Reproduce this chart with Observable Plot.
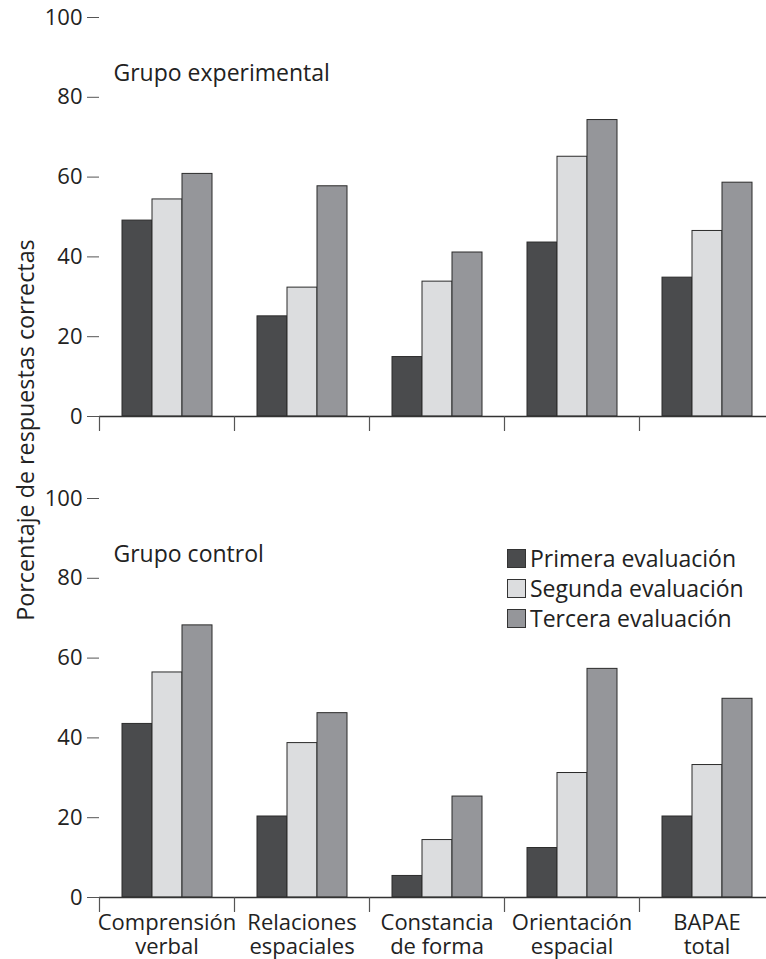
<!DOCTYPE html>
<html>
<head>
<meta charset="utf-8">
<script src="https://cdn.jsdelivr.net/npm/d3@7"></script>
<script src="https://cdn.jsdelivr.net/npm/@observablehq/plot@0.6"></script>
<style>
  html, body { margin: 0; padding: 0; background: #fff; }
  #wrap { position: relative; width: 766px; height: 959px; overflow: hidden; font-family: "Open Sans", sans-serif; color: #222; }
  #ylabel { position: absolute; left: 25px; top: 430px; transform: translate(-50%, -50%) rotate(-90deg); white-space: nowrap; font-size: 23.3px; }
  #legend { position: absolute; left: 507px; top: 543px; font-size: 23px; line-height: 30px; }
  #legend div { display: flex; align-items: center; white-space: nowrap; }
  #legend span.sw { display: inline-block; width: 17px; height: 17px; border: 1px solid #333; margin-right: 4px; }
</style>
</head>
<body>
<div id="wrap">
  <div id="chart"></div>
  <div id="ylabel">Porcentaje de respuestas correctas</div>
  <div id="legend"></div>
</div>
<script>
const categories = ["Comprensión\nverbal", "Relaciones\nespaciales", "Constancia\nde forma", "Orientación\nespacial", "BAPAE\ntotal"];
const series = ["Primera evaluación", "Segunda evaluación", "Tercera evaluación"];
const groups = ["Grupo experimental", "Grupo control"];
const colors = ["#4a4b4d", "#dcdddf", "#95969a"];
const yTicks = [0, 20, 40, 60, 80, 100];

const expPrimera = [49.1, 25.1, 14.9, 43.6, 34.8];
const expSegunda = [54.4, 32.3, 33.8, 65.1, 46.5];
const expTercera = [60.8, 57.7, 41.1, 74.3, 58.6];
const ctlPrimera = [43.5, 20.3, 5.4, 12.4, 20.3];
const ctlSegunda = [56.4, 38.7, 14.4, 31.2, 33.2];
const ctlTercera = [68.2, 46.2, 25.3, 57.3, 49.8];

const valuesByGroup = {
  "Grupo experimental": [expPrimera, expSegunda, expTercera],
  "Grupo control": [ctlPrimera, ctlSegunda, ctlTercera]
};

const data = [];
for (const g of groups) {
  valuesByGroup[g].forEach((vals, si) => {
    vals.forEach((v, ci) => data.push({group: g, category: categories[ci], series: series[si], value: v}));
  });
}

const titles = groups.map(g => ({group: g, category: categories[0], label: g}));

const lineShape = {
  draw(context, l) { context.moveTo(0, 0); context.lineTo(0, -l); }
};

const axisColor = "#555";

const chart = Plot.plot({
  width: 766,
  height: 959,
  marginLeft: 98,
  marginRight: -8.5,
  marginTop: 17,
  marginBottom: 61.5,
  style: {fontFamily: "Open Sans, sans-serif", fontSize: "22px", color: "#222", background: "#fff", overflow: "visible"},
  fx: {domain: categories, paddingInner: 0, paddingOuter: 0, axis: null},
  fy: {domain: groups, paddingInner: 0.17, paddingOuter: 0, axis: null},
  x: {domain: series, paddingInner: 0, paddingOuter: 0.73, axis: null},
  y: {domain: [0, 100], axis: null},
  color: {domain: series, range: colors},
  marks: [
    Plot.barY(data, {fx: "category", fy: "group", x: "series", y: "value", fill: "series", stroke: "#2b2b2b", strokeWidth: 1, inset: 0}),
    Plot.ruleY([0], {stroke: "#333", strokeWidth: 1.4}),
    Plot.vector([0], {frameAnchor: "bottom-left", length: 14, rotate: 180, anchor: "start", shape: lineShape, stroke: axisColor, strokeWidth: 1.2}),
    Plot.axisY({ticks: yTicks, tickSize: 12, tickPadding: 5, line: true, stroke: axisColor, label: null, color: "#222", fontSize: 22}),
    Plot.axisFx({anchor: "bottom", tickSize: 0, tickPadding: 16, label: null, lineHeight: 1.08, fill: "#222", fontSize: 22}),
    Plot.text(titles, {fx: "category", fy: "group", y: 86, frameAnchor: "left", text: "label", textAnchor: "start", dx: 14, fill: "#222", fontSize: 23})
  ]
});
document.getElementById("chart").appendChild(chart);

const legend = document.getElementById("legend");
series.forEach((s, i) => {
  const row = document.createElement("div");
  const sw = document.createElement("span");
  sw.className = "sw";
  sw.style.background = colors[i];
  row.appendChild(sw);
  row.appendChild(document.createTextNode(s));
  legend.appendChild(row);
});
</script>
</body>
</html>
